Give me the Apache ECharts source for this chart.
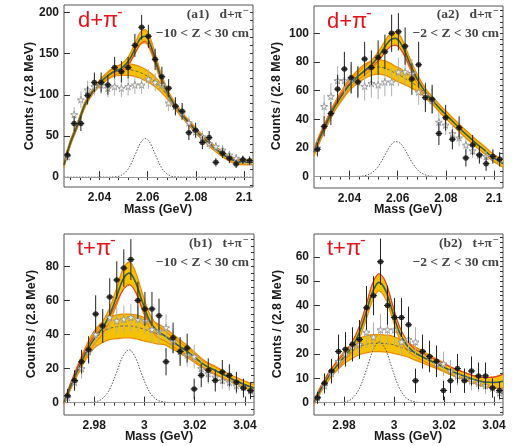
<!DOCTYPE html>
<html><head><meta charset="utf-8">
<script src="https://cdn.jsdelivr.net/npm/echarts@6/dist/echarts.min.js"></script>
<style>html,body{margin:0;padding:0;background:#fff}#c{width:520px;height:446px}</style>
</head><body><div id="c"></div>
<script>
// ---------------- data ----------------
const binsA = [2.0267, 2.0295, 2.0323, 2.0351, 2.0379, 2.0407, 2.0435, 2.0463, 2.0491, 2.0519, 2.0547, 2.0575, 2.0603, 2.0631, 2.0659, 2.0687, 2.0715, 2.0743, 2.0771, 2.0799, 2.0827, 2.0855, 2.0883, 2.0911, 2.0939, 2.0967, 2.0995, 2.1023];
const binsB = [2.9694, 2.9722, 2.9750, 2.9778, 2.9806, 2.9834, 2.9862, 2.9890, 2.9918, 2.9946, 2.9974, 3.0002, 3.0030, 3.0058, 3.0086, 3.0114, 3.0142, 3.0170, 3.0198, 3.0226, 3.0254, 3.0282, 3.0310, 3.0338, 3.0366, 3.0394, 3.0422];
const curveXA = [2.0253, 2.028, 2.031, 2.034, 2.037, 2.040, 2.043, 2.046, 2.049, 2.052, 2.055, 2.057, 2.059, 2.061, 2.063, 2.066, 2.069, 2.072, 2.075, 2.078, 2.081, 2.084, 2.087, 2.090, 2.093, 2.096, 2.099, 2.1037];
const curveXB = [2.968, 2.971, 2.974, 2.977, 2.980, 2.983, 2.986, 2.989, 2.9915, 2.994, 2.9965, 2.999, 3.002, 3.005, 3.008, 3.011, 3.014, 3.017, 3.020, 3.024, 3.028, 3.032, 3.036, 3.040, 3.0436];

const xTicksA = [2.04, 2.06, 2.08, 2.1];
const xTicksB = [2.98, 3, 3.02, 3.04];
const yTicksA1 = [0, 50, 100, 150, 200];
const yTicksA2 = [0, 20, 40, 60, 80, 100];
const yTicksB1 = [0, 20, 40, 60, 80];
const yTicksB2 = [0, 10, 20, 30, 40, 50, 60];

// (a1)
const a1Black = [27, 65, 65, 99, 115, 115, 112, 133, 128, 133, 160, 182, 171, 143, 122, 108, 86, 80, 54, 57, 42, 48, 18, 29, 23, 16, 21, 20];
const a1BlackErr = [6, 9, 9, 11, 12, 12, 12, 13, 13, 13, 14, 15, 14, 13, 12, 11, 11, 10, 9, 9, 8, 8, 5, 6, 6, 5, 5, 5];
const a1Open = [25, 76, 94, 106, 110, 112, 108, 110, 108, 110, 112, 112, 119, 115, 112, 90, 86, 78, 66, 55, 49, 41, 37, 33, 27, 23, 21, 19];
const a1OpenErr = [5, 9, 10, 11, 11, 11, 11, 11, 11, 11, 11, 11, 12, 11, 11, 10, 10, 9, 8, 8, 7, 7, 6, 6, 5, 5, 5, 5];
const a1Bg = [15, 42, 64, 88, 103, 114, 122, 128, 130, 130.5, 129, 127, 124, 120.5, 116, 107, 96, 84, 73, 63, 53, 45, 37, 30, 24, 20, 18, 18];
const a1Gauss = [0, 0, 0, 0, 0, 0, 0, 0.24, 2.06, 10.2, 28.5, 41.5, 47, 41.5, 28.5, 10.2, 2.06, 0.24, 0, 0, 0, 0, 0, 0, 0, 0, 0, 0];
const a1Total = [15, 42, 64, 88, 103, 114, 122, 128.2, 132.1, 140.7, 157.5, 168.5, 171, 162, 144.5, 117.2, 98.1, 84.2, 73, 63, 53, 45, 37, 30, 24, 20, 18, 18];
const a1TotalHw = [3, 3, 3, 3, 3, 3, 3.5, 4, 5, 5.5, 6.5, 7.5, 8, 7.5, 6.5, 5, 4, 3.5, 3, 3, 3, 3, 3, 3, 3, 3, 3, 3];
const a1BgHw = [3, 3, 3, 3, 3, 3.5, 4.5, 5.5, 6.5, 7, 7, 7, 7, 6.5, 6, 5, 4, 3.5, 3, 3, 3, 3, 3, 3, 3, 3, 3, 3];
const a1Red = [15, 42, 64, 88, 103, 114, 122, 127, 130, 137, 152, 162, 165, 157, 141, 116, 98, 84.5, 74, 64, 54, 46, 38, 31, 25, 21, 19, 19];

// (a2)
const a2Black = [19, 35, 44, 61, 75, 69, 66, 82, 76, 83, 87, 100, 101, 91, 68, 78, 55, 54, 30, 41, 26, 34, 13, 22, 15, 9, 14, 12];
const a2BlackErr = [5, 7, 8, 10, 12, 11, 11, 12, 12, 12, 12, 13, 13, 13, 11, 16, 10, 10, 8, 9, 7, 8, 6, 7, 6, 5, 5, 5];
const a2Open = [20, 49, 56, 67, 67, 68, 66, 63, 65, 64, 66, 66, 73, 73, 72, 59, 57, 53, 38, 36, 30, 27, 22, 18, 15, 14, 14, 12];
const a2OpenErr = [5, 8, 9, 10, 10, 10, 10, 10, 10, 10, 10, 10, 10, 10, 10, 9, 9, 9, 7, 7, 6, 6, 5, 5, 5, 4, 4, 4];
const a2Bg = [17, 28, 39, 49, 57, 64, 69, 73, 75.5, 76.5, 75.5, 74, 72, 70.5, 68.5, 65.5, 62, 57, 52, 46.5, 41.5, 36.5, 31.5, 27, 22.5, 18.5, 14, 9];
const a2Gauss = [0, 0, 0, 0, 0, 0, 0.07, 0.47, 2.24, 7.2, 15.8, 21.4, 24.4, 23.3, 18.8, 9.8, 3.5, 0.83, 0.13, 0, 0, 0, 0, 0, 0, 0, 0, 0];
const a2Total = [17, 28, 39, 49, 57, 64, 69.1, 73.5, 77.7, 83.7, 91.3, 95.4, 96.4, 93.8, 87.3, 75.3, 65.5, 57.8, 52.1, 46.5, 41.5, 36.5, 31.5, 27, 22.5, 18.5, 14, 9];
const a2TotalHw = [2.5, 2.5, 2.5, 2.5, 2.5, 2.5, 2.5, 3, 3, 3.5, 4, 4.5, 4.5, 4.5, 4, 3.5, 3, 2.5, 2.5, 2.5, 2.5, 2.5, 2.5, 2.5, 2.5, 2.5, 2.5, 2.5];
const a2BgHw = [2.5, 2.5, 2.5, 3, 3.5, 4, 4.5, 5, 5, 5, 5, 5, 5, 5, 4.5, 4, 3.5, 3, 2.5, 2.5, 2.5, 2.5, 2.5, 2.5, 2.5, 2.5, 2.5, 2.5];
const a2Red = [18.5, 29.5, 40.5, 50.5, 58.5, 65, 69.5, 73, 76.5, 81, 87, 90.5, 91.5, 89.5, 84, 73.5, 65, 57.8, 52.1, 46.5, 41.5, 36.5, 31.5, 27, 22.5, 18.5, 14, 9];

// (b1)
const b1Black = [4, 13, 24, 31, 52, 45, 62, 72, 79, 84, 60, 55, 55, 51, 24, 38, 30, 32, 8, 16, 19, 13, 18, 16, 12, 8.5, 7];
const b1BlackErr = [4, 6, 7, 8, 11, 10, 11, 11, 11, 12, 11, 10, 10, 10, 8, 9, 8.5, 8.5, 6, 7, 7, 6.5, 7, 6.5, 6, 5.5, 5];
const b1Open = [3, 12, 20, 30, 40, 45, 50, 48, 49, 50, 49, 48, 43, 42, 44, 36, 30, 28, 27, 20, 17, 15, 13, 12, 10, 9, 7];
const b1OpenErr = [3, 5, 6, 7, 8, 8, 8, 8, 8, 8, 8, 8, 8, 8, 8, 7, 7, 7, 7, 6, 6, 5, 5, 5, 5, 4, 4];
const b1Bg = [0, 11, 21, 30, 37, 41, 43.5, 44.5, 45, 45, 44.5, 43.5, 42, 40.5, 39, 36, 33, 30, 26.5, 22, 19, 16, 13, 10.5, 8.5];
const b1Gauss = [0, 0, 0, 0.04, 0.35, 2.0, 7.4, 18.0, 27.4, 31.0, 26.1, 16.4, 6.3, 1.6, 0.27, 0.03, 0, 0, 0, 0, 0, 0, 0, 0, 0];
const b1Total = [0, 11, 21, 30, 37.4, 43, 50.9, 62.5, 72.4, 76, 70.6, 59.9, 48.3, 42.1, 39.3, 36, 33, 30, 26.5, 22, 19, 16, 13, 10.5, 8.5];
const b1TotalHw = [1, 1.5, 2, 2.5, 3, 3.5, 4, 5, 6, 6.5, 6, 5, 4, 3.5, 3, 2.5, 2.5, 2, 2, 2, 2, 2, 2, 2, 2];
const b1BgHw = [1, 2, 3, 4, 5, 6, 6.5, 7, 7, 7, 7, 7, 6.5, 6, 5, 4.5, 4, 3.5, 3, 2.5, 2.5, 2, 2, 2, 2];
const b1Red = [0, 12.5, 23, 32, 39, 44, 50, 59, 66, 69, 65, 56, 47, 42, 39.5, 36, 33, 30, 26.5, 22, 19, 16, 13, 10.5, 8.5];

// (b2)
const b2Black = [2, 8, 13, 21, 22, 24, 26, 39, 44, 58, 40, 35, 35, 32, 9, 21, 19, 17, 5, 9, 14, 9, 13, 11, 11, 6, 5];
const b2BlackErr = [2.5, 4, 5, 7, 7, 7, 8, 9, 8, 9.5, 8, 8, 8, 7.5, 5, 7, 6.5, 6.5, 4, 5, 6, 5, 6, 5.5, 5.5, 4, 3.5];
const b2Open = [2, 7, 12, 17, 20, 23, 24, 29, 27, 30, 30, 30, 25, 26, 25, 21, 19, 16, 16, 13, 11, 10, 9, 8, 7, 6, 4];
const b2OpenErr = [2, 3.5, 4.5, 5, 5.5, 6, 6, 6.5, 6, 6.5, 6.5, 6.5, 6, 6, 6, 5.5, 5, 5, 5, 4.5, 4, 4, 4, 3.5, 3.5, 3, 3];
const b2Bg = [0, 6, 11, 15, 18.5, 21, 23, 24, 24.5, 24.5, 24.3, 24, 23, 22, 20.5, 19, 17.5, 16, 14.5, 12.5, 11, 9.5, 8.5, 8.3, 8.8];
const b2Gauss = [0, 0, 0, 0.03, 0.26, 1.46, 5.5, 13.6, 21.2, 25, 22.2, 14.8, 6.3, 1.8, 0.34, 0.04, 0, 0, 0, 0, 0, 0, 0, 0, 0];
const b2Total = [0, 6, 11, 15, 18.8, 22.5, 28.5, 37.6, 45.7, 49.5, 46.5, 38.8, 29.3, 23.8, 20.8, 19, 17.5, 16, 14.5, 12.5, 11, 9.5, 8.5, 8.3, 8.8];
const b2TotalHw = [0.8, 1.2, 1.5, 1.5, 1.5, 2, 2.5, 3, 3.5, 3.5, 3.5, 3, 2.5, 2, 1.5, 1.5, 1.5, 1.5, 1.5, 1.5, 1.5, 1.5, 1.8, 2.2, 2.8];
const b2BgHw = [0.8, 1.2, 1.5, 2, 2.5, 3, 3.3, 3.5, 3.5, 3.5, 3.5, 3.5, 3.3, 3, 2.8, 2.5, 2.3, 2, 1.8, 1.6, 1.5, 1.5, 1.8, 2.2, 2.8];
const b2Red = [0.5, 7, 12.5, 16.5, 20.3, 24.5, 31, 40.6, 49.2, 53, 50, 41.8, 31.8, 25.8, 22.3, 20.5, 19, 17.5, 16, 14, 12.5, 11, 10.3, 10.5, 11.6];

// ---------------- layout / build ----------------
const panels = [
  {bins: binsA, cx: curveXA, black: a1Black, blackErr: a1BlackErr, open: a1Open, openErr: a1OpenErr,
   bg: a1Bg, bgHw: a1BgHw, total: a1Total, totalHw: a1TotalHw, red: a1Red, gauss: a1Gauss,
   xMin: 2.0253, xMax: 2.1037, yMin: -12, yMax: 209, xTicks: xTicksA, yTicks: yTicksA1, xMinorStep: 0.004, yMinorStep: 10,
   box: {left: 64, top: 5, width: 189, height: 182}},
  {bins: binsA, cx: curveXA, black: a2Black, blackErr: a2BlackErr, open: a2Open, openErr: a2OpenErr,
   bg: a2Bg, bgHw: a2BgHw, total: a2Total, totalHw: a2TotalHw, red: a2Red, gauss: a2Gauss,
   xMin: 2.0253, xMax: 2.1037, yMin: -8, yMax: 119, xTicks: xTicksA, yTicks: yTicksA2, xMinorStep: 0.004, yMinorStep: 4,
   box: {left: 314, top: 6, width: 189, height: 182}},
  {bins: binsB, cx: curveXB, black: b1Black, blackErr: b1BlackErr, open: b1Open, openErr: b1OpenErr,
   bg: b1Bg, bgHw: b1BgHw, total: b1Total, totalHw: b1TotalHw, red: b1Red, gauss: b1Gauss,
   xMin: 2.968, xMax: 3.0436, yMin: -7.3, yMax: 99, xTicks: xTicksB, yTicks: yTicksB1, xMinorStep: 0.004, yMinorStep: 4,
   box: {left: 64, top: 234, width: 190, height: 181}},
  {bins: binsB, cx: curveXB, black: b2Black, blackErr: b2BlackErr, open: b2Open, openErr: b2OpenErr,
   bg: b2Bg, bgHw: b2BgHw, total: b2Total, totalHw: b2TotalHw, red: b2Red, gauss: b2Gauss,
   xMin: 2.968, xMax: 3.0436, yMin: -5.1, yMax: 69.4, xTicks: xTicksB, yTicks: yTicksB2, xMinorStep: 0.004, yMinorStep: 2,
   box: {left: 314, top: 234, width: 189, height: 181}}
];

const FONT = '"Liberation Sans", Arial, Helvetica, sans-serif';
const SERIF = '"Liberation Serif", "DejaVu Serif", "Times New Roman", serif';
const BAND = '#f6c100', EDGE = '#ee8a00', RED = '#e8303a', GREEN = '#355e4f';

function minorVals(lo, hi, step, anchor) {
  const out = [];
  const k0 = Math.ceil((lo - anchor) / step - 1e-9), k1 = Math.floor((hi - anchor) / step + 1e-9);
  for (let k = k0; k <= k1; k++) out.push(+(anchor + k * step).toFixed(6));
  return out;
}

const grids = [], xAxes = [], yAxes = [], series = [];
const HBIN = 0.0014;

panels.forEach((p, gi) => {
  grids.push(Object.assign({show: true, borderColor: '#555', borderWidth: 1, backgroundColor: 'transparent',
    containLabel: false, outerBoundsMode: 'none'}, p.box));
  const xMin = minorVals(p.xMin + 1e-6, p.xMax - 1e-6, p.xMinorStep, p.xTicks[0]);
  const yMin = minorVals(p.yMin + 1e-6, p.yMax - 1e-6, p.yMinorStep, 0);
  const common = {type: 'value', gridIndex: gi, splitLine: {show: false}, axisLine: {show: false}};
  xAxes.push(Object.assign({}, common, {min: p.xMin, max: p.xMax,
    axisTick: {show: true, inside: true, length: 6, customValues: p.xTicks, lineStyle: {color: '#333', width: 1}},
    axisLabel: {show: true, customValues: p.xTicks, margin: 5, color: '#1a1a1a', fontWeight: 'bold', fontSize: 12, fontFamily: FONT}}));
  xAxes.push(Object.assign({}, common, {min: p.xMin, max: p.xMax,
    axisTick: {show: true, inside: true, length: 3, customValues: xMin, lineStyle: {color: '#333', width: 1}},
    axisLabel: {show: false}}));
  yAxes.push(Object.assign({}, common, {min: p.yMin, max: p.yMax,
    axisTick: {show: true, inside: true, length: 6, customValues: p.yTicks, lineStyle: {color: '#333', width: 1}},
    axisLabel: {show: true, customValues: p.yTicks, margin: 5, color: '#1a1a1a', fontWeight: 'bold', fontSize: 12, fontFamily: FONT}}));
  yAxes.push(Object.assign({}, common, {min: p.yMin, max: p.yMax,
    axisTick: {show: true, inside: true, length: 3, customValues: yMin, lineStyle: {color: '#333', width: 1}},
    axisLabel: {show: false}}));

  const ax = {xAxisIndex: gi * 2, yAxisIndex: gi * 2};
  // band: data given as [y, x] so that the stack acts on y (value axes stack the first numeric dimension)
  const band = (center, hw, id, z) => {
    const lo = p.cx.map((x, i) => [center[i] - hw[i], x]);
    const df = p.cx.map((x, i) => [2 * hw[i], x]);
    return [
      Object.assign({type: 'line', data: lo, encode: {x: 1, y: 0}, stack: id, stackStrategy: 'all', smooth: 0.35, symbol: 'none',
        lineStyle: {color: EDGE, width: 1.2}, z, silent: true}, ax),
      Object.assign({type: 'line', data: df, encode: {x: 1, y: 0}, stack: id, stackStrategy: 'all', smooth: 0.35, symbol: 'none',
        lineStyle: {color: EDGE, width: 1.2}, areaStyle: {color: BAND, opacity: 1}, z, silent: true}, ax)
    ];
  };
  const curve = (vals, style, z) => Object.assign({type: 'line', data: p.cx.map((x, i) => [x, vals[i]]),
    smooth: 0.35, symbol: 'none', lineStyle: style, z, silent: true}, ax);

  series.push(...band(p.bg, p.bgHw, 'bg' + gi, 1));
  series.push(...band(p.total, p.totalHw, 'tot' + gi, 2));
  series.push(curve(p.red, {color: RED, width: 1}, 3));
  series.push(curve(p.bg, {color: '#6b6b50', width: 1, type: [3, 2]}, 3));
  series.push(curve(p.total, {color: GREEN, width: 1.6}, 3));
  const g = curve(p.gauss, {color: '#555', width: 1, type: [1.5, 1.5]}, 3);
  g.markLine = {silent: true, symbol: 'none', label: {show: false}, lineStyle: {color: '#999', width: 1, type: 'solid'},
    data: [{yAxis: 0}], animation: false};
  series.push(g);

  const errs = (vals, e, color, z) => Object.assign({type: 'custom', z, silent: true, clip: true,
    data: p.bins.map((x, i) => [x, vals[i], e[i]]), encode: {x: 0, y: 1},
    renderItem(params, api) {
      const x = api.value(0), y = api.value(1), er = api.value(2);
      const a = api.coord([x, y - er]), b = api.coord([x, y + er]);
      const c = api.coord([x - HBIN, y]), d = api.coord([x + HBIN, y]);
      return {type: 'group', children: [
        {type: 'line', shape: {x1: a[0], y1: a[1], x2: b[0], y2: b[1]}, style: {stroke: color, lineWidth: 1}},
        {type: 'line', shape: {x1: c[0], y1: c[1], x2: d[0], y2: d[1]}, style: {stroke: color, lineWidth: 1}}
      ]};
    }}, ax);
  series.push(errs(p.open, p.openErr, '#b0b0b0', 4));
  series.push(Object.assign({type: 'scatter', data: p.bins.map((x, i) => [x, p.open[i]]),
    symbol: 'path://M5,0 L6.2,3.6 L10,3.6 L6.9,5.8 L8.1,9.5 L5,7.2 L1.9,9.5 L3.1,5.8 L0,3.6 L3.8,3.6 Z',
    symbolSize: 7, itemStyle: {color: '#fff', borderColor: '#8f8f8f', borderWidth: 1}, z: 5, silent: true}, ax));
  series.push(errs(p.black, p.blackErr, '#222', 6));
  series.push(Object.assign({type: 'scatter', data: p.bins.map((x, i) => [x, p.black[i]]),
    symbol: 'circle', symbolSize: 5.5, itemStyle: {color: '#111'}, z: 7, silent: true}, ax));
});

// ---------------- text ----------------
const txt = (x, y, text, font, fill, align, va, rot) => ({type: 'text', x, y, rotation: rot || 0, z: 100,
  style: {text, font, fill, align: align || 'left', verticalAlign: va || 'top'}});
const graphic = [];
const labels = [
  {red: 'd+π', rx: 78, ry: 10, sx: 39, title: '(a1)   d+π', cut: '−10 < Z < 30 cm', tx: 249, ty: 8, cy: 96, cxTitle: 30, mx: 158, my: 210},
  {red: 'd+π', rx: 327, ry: 11, sx: 39, title: '(a2)   d+π', cut: '−2 < Z < 30 cm', tx: 499, ty: 8, cy: 96, cxTitle: 277, mx: 408, my: 210},
  {red: 't+π', rx: 77, ry: 238, sx: 33, title: '(b1)   t+π', cut: '−10 < Z < 30 cm', tx: 249, ty: 237, cy: 324, cxTitle: 32, mx: 159, my: 437},
  {red: 't+π', rx: 327, ry: 238, sx: 33, title: '(b2)   t+π', cut: '−2 < Z < 30 cm', tx: 499, ty: 237, cy: 324, cxTitle: 278, mx: 408, my: 437}
];
labels.forEach(l => {
  graphic.push(txt(l.rx, l.ry, l.red, '22px ' + FONT, '#e5141c'));
  graphic.push(txt(l.rx + l.sx, l.ry - 6, '-', '17px ' + FONT, '#e5141c'));
  graphic.push(txt(l.tx - 7, l.ty, l.title, 'bold 13.5px ' + SERIF, '#444', 'right'));
  graphic.push(txt(l.tx - 6, l.ty - 2, '−', 'bold 10px ' + SERIF, '#444', 'left'));
  graphic.push(txt(l.tx, l.ty + 19, l.cut, 'bold 13.5px ' + SERIF, '#444', 'right'));
  graphic.push(txt(l.cxTitle, l.cy, 'Counts / (2.8 MeV)', 'bold 12.5px ' + FONT, '#1a1a1a', 'center', 'middle', Math.PI / 2));
  graphic.push(txt(l.mx, l.my, 'Mass (GeV)', 'bold 12.5px ' + FONT, '#1a1a1a', 'center', 'middle'));
});

const chart = echarts.init(document.getElementById('c'), null, {renderer: 'canvas'});
chart.setOption({animation: false, backgroundColor: '#fff', grid: grids, xAxis: xAxes, yAxis: yAxes, series, graphic});
</script></body></html>
